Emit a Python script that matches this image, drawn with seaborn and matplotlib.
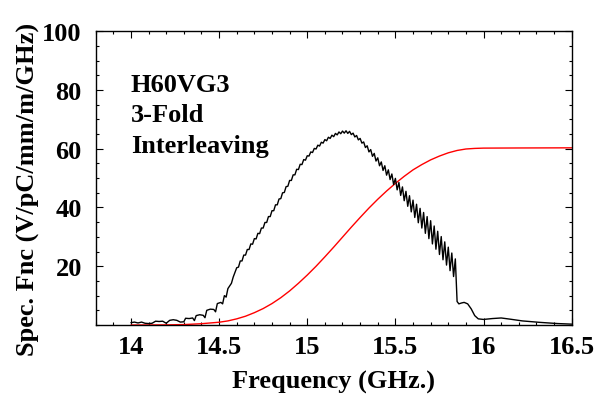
import matplotlib
matplotlib.use("Agg")
import matplotlib.pyplot as plt
import seaborn as sns
import pandas as pd
from matplotlib.ticker import MultipleLocator, FixedLocator

# ---- data ----
spec_freq = [
    14.00, 14.02, 14.04, 14.06, 14.08, 14.10, 14.12, 14.14, 14.16, 14.18,
    14.20, 14.22, 14.24, 14.26, 14.28, 14.30, 14.31, 14.33, 14.35, 14.36,
    14.37, 14.39, 14.41, 14.42, 14.43, 14.45, 14.47, 14.48, 14.49, 14.51,
    14.52, 14.53, 14.54, 14.55, 14.57, 14.58,
    14.60, 14.61, 14.62, 14.63, 14.64, 14.65, 14.66, 14.67, 14.68, 14.69,
    14.70, 14.71, 14.72, 14.73, 14.74, 14.75, 14.76, 14.77, 14.78, 14.79,
    14.80, 14.81, 14.82, 14.83, 14.84, 14.85, 14.86, 14.87, 14.88, 14.89,
    14.90, 14.91, 14.92, 14.93, 14.94, 14.95, 14.96, 14.97, 14.98, 14.99,
    15.00, 15.01, 15.02, 15.03, 15.04, 15.05, 15.06, 15.07, 15.08, 15.09,
    15.10, 15.11, 15.12, 15.13, 15.14, 15.15, 15.16, 15.17, 15.18, 15.19,
    15.20, 15.21, 15.22, 15.23, 15.24, 15.25, 15.26, 15.27, 15.28, 15.29,
    15.30, 15.31, 15.32, 15.33, 15.34, 15.35, 15.36, 15.37, 15.38, 15.39,
    15.40, 15.41, 15.42, 15.43, 15.44, 15.45, 15.46, 15.47, 15.48, 15.49,
    15.50, 15.51, 15.52, 15.53, 15.54, 15.55, 15.56, 15.57, 15.58, 15.59,
    15.60, 15.61, 15.62, 15.63, 15.64, 15.65, 15.66, 15.67, 15.68, 15.69,
    15.70, 15.71, 15.72, 15.73, 15.74, 15.75, 15.76, 15.77, 15.78, 15.79,
    15.80, 15.81, 15.82, 15.83, 15.84,
    15.85, 15.86, 15.875, 15.89, 15.91, 15.93, 15.95, 15.97, 16.00, 16.05,
    16.10, 16.15, 16.22, 16.32, 16.42, 16.50,
]
spec_value = [
    0.8, 1.0, 0.7, 1.0, 0.6, 0.5, 0.6, 1.3, 1.2, 1.3,
    0.6, 1.6, 1.8, 1.6, 1.0, 1.1, 2.3, 2.2, 2.4, 1.5,
    3.2, 3.5, 3.3, 2.5, 5.0, 5.4, 5.3, 4.5, 7.3, 7.7,
    7.2, 10.0, 9.5, 12.4, 14.2, 16.3,
    19.5, 19.7, 21.8, 21.8, 23.8, 23.8, 25.7, 25.7, 27.6, 27.5,
    29.4, 29.3, 31.2, 31.1, 33.0, 33.0, 34.9, 34.9, 36.9, 36.9,
    38.9, 38.9, 40.9, 40.9, 42.9, 43.0, 45.0, 45.1, 47.1, 47.2,
    49.2, 49.2, 51.1, 51.1, 53.0, 52.9, 54.7, 54.6, 56.3, 56.1,
    57.6, 57.5, 58.9, 58.7, 60.1, 59.9, 61.2, 60.9, 62.2, 61.9,
    63.1, 62.7, 63.9, 63.5, 64.6, 64.1, 65.2, 64.7, 65.7, 65.1,
    66.0, 65.3, 66.1, 65.2, 65.9, 64.8, 65.3, 64.0, 64.5, 63.0,
    63.5, 61.9, 62.3, 60.4, 61.0, 58.9, 59.7, 57.4, 58.4, 55.8,
    56.9, 54.2, 55.5, 52.6, 54.2, 51.0, 52.8, 49.5, 51.4, 47.8,
    49.9, 46.0, 48.5, 44.1, 47.0, 42.3, 45.5, 40.4, 44.0, 38.5,
    42.5, 36.6, 41.1, 34.8, 39.7, 33.0, 38.3, 31.2, 36.9, 29.4,
    35.5, 27.6, 33.7, 25.8, 31.9, 24.0, 30.1, 22.2, 28.3, 20.4,
    26.5, 18.5, 24.5, 16.5, 22.5,
    8.0, 7.2, 7.5, 7.7, 7.2, 5.5, 3.2, 2.1, 1.9, 2.2,
    2.4, 2.0, 1.4, 0.9, 0.5, 0.3,
]

cum_freq = [
    14.00, 14.20, 14.30, 14.40, 14.50, 14.55, 14.60, 14.65, 14.70, 14.75,
    14.80, 14.85, 14.90, 14.95, 15.00, 15.05, 15.10, 15.15, 15.20, 15.25,
    15.30, 15.35, 15.40, 15.45, 15.50, 15.55, 15.60, 15.65, 15.70, 15.75,
    15.80, 15.85, 15.90, 15.95, 16.00, 16.20, 16.50,
]
cum_value = [
    0.0, 0.05, 0.15, 0.45, 0.95, 1.4, 2.1, 3.0, 4.2, 5.6,
    7.3, 9.3, 11.6, 14.2, 17.0, 20.0, 23.2, 26.5, 29.9, 33.3,
    36.6, 39.8, 42.8, 45.6, 48.2, 50.6, 52.8, 54.6, 56.2, 57.5,
    58.6, 59.4, 59.9, 60.1, 60.2, 60.25, 60.3,
]

x_ticks = [14, 14.5, 15, 15.5, 16, 16.5]
x_tick_labels = ["14", "14.5", "15", "15.5", "16", "16.5"]
y_ticks = [20, 40, 60, 80, 100]
y_tick_labels = ["20", "40", "60", "80", "100"]
annotation_lines = ["H60VG3", "3-Fold", "Interleaving"]

# ---- plotting ----
sns.set_theme(style="ticks")
plt.rcParams["font.family"] = ["Liberation Serif", "DejaVu Serif"]
plt.rcParams["font.weight"] = "bold"
plt.rcParams["text.color"] = "black"
plt.rcParams["axes.labelcolor"] = "black"
plt.rcParams["xtick.color"] = "black"
plt.rcParams["ytick.color"] = "black"

fig = plt.figure(figsize=(5.98, 4.02), dpi=100)
ax = fig.add_axes([0.160, 0.189, 0.796, 0.731])

spec_df = pd.DataFrame({"freq": spec_freq, "value": spec_value})
cum_df = pd.DataFrame({"freq": cum_freq, "value": cum_value})

sns.lineplot(data=cum_df, x="freq", y="value", color="#ff0000", lw=1.0,
             sort=False, estimator=None, ax=ax)
sns.lineplot(data=spec_df, x="freq", y="value", color="black", lw=1.0,
             sort=False, estimator=None, ax=ax)

ax.set_xlim(13.8, 16.5)
ax.set_ylim(0, 100)
ax.xaxis.set_major_locator(FixedLocator(x_ticks))
ax.set_xticklabels(x_tick_labels)
ax.xaxis.set_minor_locator(MultipleLocator(0.1))
ax.yaxis.set_major_locator(FixedLocator(y_ticks))
ax.set_yticklabels(y_tick_labels)
ax.yaxis.set_minor_locator(MultipleLocator(5))

ax.tick_params(which="both", direction="in", top=True, right=True,
               color="black", labelcolor="black", width=0.8)
ax.tick_params(which="major", length=5, labelsize=19, pad=7)
ax.tick_params(axis="y", which="major", pad=10)
ax.tick_params(which="minor", length=2.5)
for lab in ax.get_xticklabels() + ax.get_yticklabels():
    lab.set_fontweight("bold")
    lab.set_color("black")

for s in ax.spines.values():
    s.set_color("black")
    s.set_linewidth(1.0)

ax.set_xlabel("Frequency (GHz.)", fontsize=19, fontweight="bold", labelpad=9,
              color="black")
ax.set_ylabel("Spec. Fnc (V/pC/mm/m/GHz)", fontsize=19, fontweight="bold",
              labelpad=2, color="black")
ax.yaxis.label.set_y(0.465)

for txt, yv in zip(annotation_lines, [79.6, 69.3, 58.9]):
    ax.text(14.0, yv, txt, fontsize=19, fontweight="bold", va="baseline",
            ha="left", color="black")

fig.savefig("out.png", dpi=100)
